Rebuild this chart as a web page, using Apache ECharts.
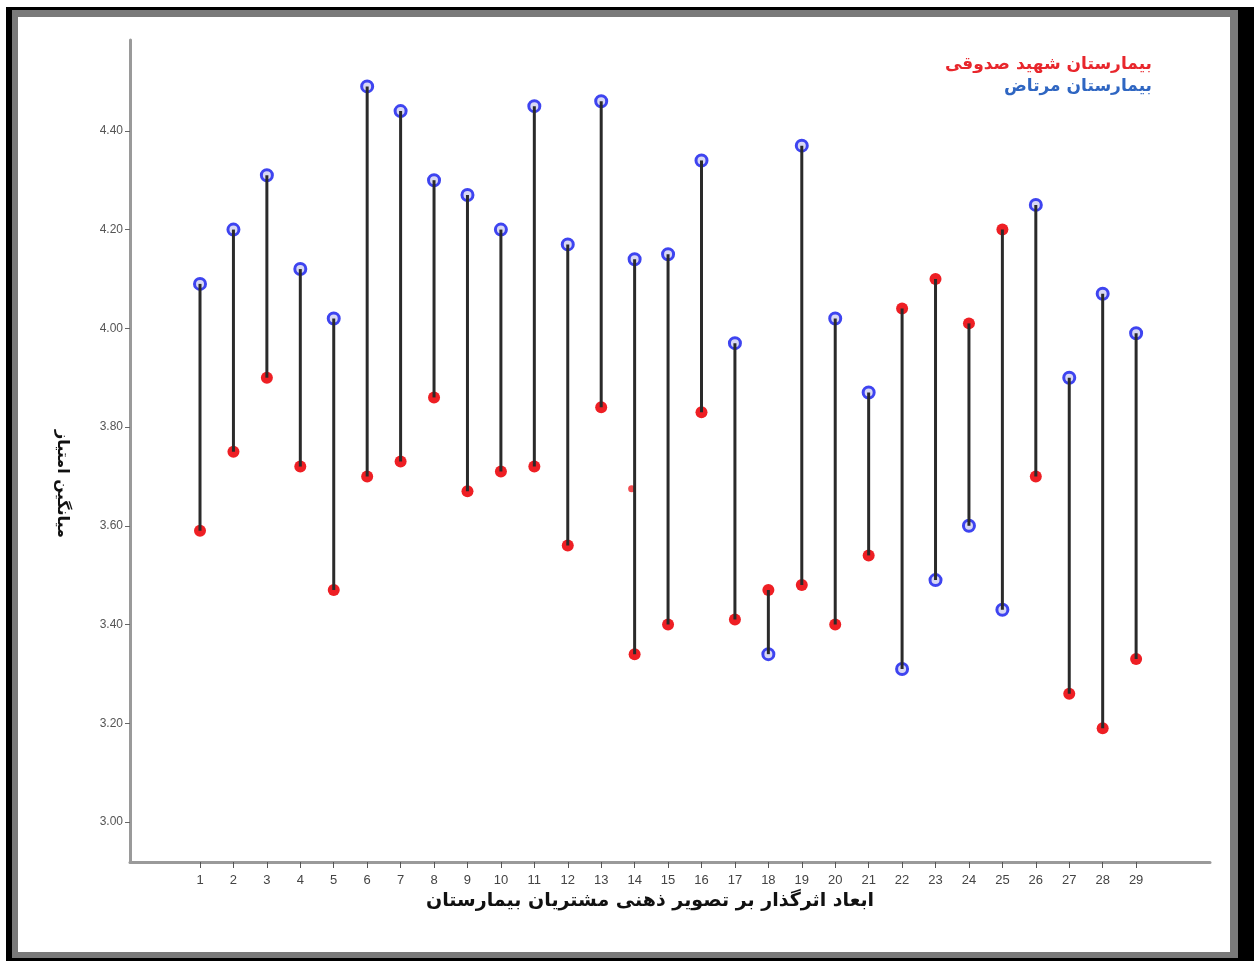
<!DOCTYPE html>
<html>
<head>
<meta charset="utf-8">
<script src="https://cdn.jsdelivr.net/npm/echarts@6/dist/echarts.min.js"></script>
<style>
html,body{margin:0;padding:0;background:#fff;}
#black{position:absolute;left:6px;top:7px;width:1248px;height:954px;background:#000;}
#gray{position:absolute;left:12px;top:10px;width:1226px;height:948px;background:#7a7a7a;}
#white{position:absolute;left:18px;top:17px;width:1212px;height:935px;background:#fff;}
#chart{position:absolute;left:0;top:0;width:1254px;height:961px;}
</style>
</head>
<body>
<div id="black"></div><div id="gray"></div><div id="white"></div>
<div id="chart"></div>
<script>
// Dimension numbers (x categories)
const dimensions = [1,2,3,4,5,6,7,8,9,10,11,12,13,14,15,16,17,18,19,20,21,22,23,24,25,26,27,28,29];
// بیمارستان مرتاض (blue)
const mortazValues = [4.09,4.20,4.31,4.12,4.02,4.49,4.44,4.30,4.27,4.20,4.45,4.17,4.46,4.14,4.15,4.34,3.97,3.34,4.37,4.02,3.87,3.31,3.49,3.60,3.43,4.25,3.90,4.07,3.99];
// بیمارستان شهید صدوقی (red)
const sadoughiValues = [3.59,3.75,3.90,3.72,3.47,3.70,3.73,3.86,3.67,3.71,3.72,3.56,3.84,3.34,3.40,3.83,3.41,3.47,3.48,3.40,3.54,4.04,4.10,4.01,4.20,3.70,3.26,3.19,3.33];
// stray red mark visible at dimension 14
const strayMarks = [[14, 3.675]];
// y tick labels
const yTicks = [3.0,3.2,3.4,3.6,3.8,4.0,4.2,4.4];

const seriesNames = ['بیمارستان شهید صدوقی','بیمارستان مرتاض'];
const xTitle = 'ابعاد اثرگذار بر تصویر ذهنی مشتریان بیمارستان';
const yTitle = 'میانگین امتیاز';

const rangeData = dimensions.map((d,i)=>[d, mortazValues[i], sadoughiValues[i]]);
const blueData = dimensions.map((d,i)=>[d, mortazValues[i]]);
const redData = dimensions.map((d,i)=>[d, sadoughiValues[i]]);

const chart = echarts.init(document.getElementById('chart'), null, {renderer:'canvas'});
const numFont = "'Liberation Sans Narrow','Liberation Sans',Arial,sans-serif";
const arFont = "'DejaVu Sans',sans-serif";

chart.setOption({
  backgroundColor: 'transparent',
  animation: false,
  grid: {left:130, top:40, right:44, bottom:99, containLabel:false},
  xAxis: {
    type:'value', min:-1.094, max:31.21,
    splitLine:{show:false},
    axisLine:{show:true, onZero:false, lineStyle:{color:'#9a9a9a', width:3}},
    axisTick:{show:true, customValues:dimensions, length:6, lineStyle:{color:'#555', width:1}},
    axisLabel:{customValues:dimensions, color:'#444', fontSize:13, fontFamily:numFont, margin:12},
    name: xTitle, nameLocation:'middle', nameGap:30,
    nameTextStyle:{color:'#111', fontSize:19, fontWeight:'bold', fontFamily:arFont, padding:[0,40,0,0]}
  },
  yAxis: {
    type:'value', min:2.919, max:4.584,
    splitLine:{show:false},
    axisLine:{show:true, onZero:false, lineStyle:{color:'#9a9a9a', width:3}},
    axisTick:{show:true, customValues:yTicks, length:5, lineStyle:{color:'#666', width:1}},
    axisLabel:{customValues:yTicks, color:'#555', fontSize:12, fontFamily:numFont, margin:7,
      formatter:v=>v.toFixed(2)}
  },
  graphic: [
    {type:'text', right:102, top:56, z:10, style:{text:seriesNames[0], fill:'#e8262c', font:"bold 17px 'DejaVu Sans'", textAlign:'right'}},
    {type:'text', right:102, top:78, z:10, style:{text:seriesNames[1], fill:'#2f66c2', font:"bold 17px 'DejaVu Sans'", textAlign:'right'}},
    {type:'text', left:54, top:430, rotation:-Math.PI/2, originX:0, originY:0, z:10,
      style:{text:yTitle, fill:'#111', font:"bold 16px 'DejaVu Sans'"}}
  ],
  series: [
    {
      name: seriesNames[0], type:'scatter', data: redData, symbol:'circle', symbolSize:12, z:2,
      itemStyle:{color:'#ee1f24', opacity:1}
    },
    {
      name: 'stray', type:'scatter', data: strayMarks, symbol:'circle', symbolSize:7, symbolOffset:[-3,0], z:2,
      itemStyle:{color:'#ee1f24'}
    },
    {
      name: seriesNames[1], type:'scatter', data: blueData, symbol:'circle', symbolSize:11, z:2,
      itemStyle:{color:'#d8d8f4', borderColor:'#3e44f0', borderWidth:3, opacity:1}
    },
    {
      name:'range', type:'custom', data: rangeData, z:5,
      renderItem:function(params, api){
        const p1 = api.coord([api.value(0), api.value(1)]);
        const p2 = api.coord([api.value(0), api.value(2)]);
        return {type:'line', shape:{x1:p1[0], y1:p1[1], x2:p2[0], y2:p2[1]},
          style:{stroke:'#2a2a2a', lineWidth:3}};
      }
    }
  ]
});
</script>
</body>
</html>
